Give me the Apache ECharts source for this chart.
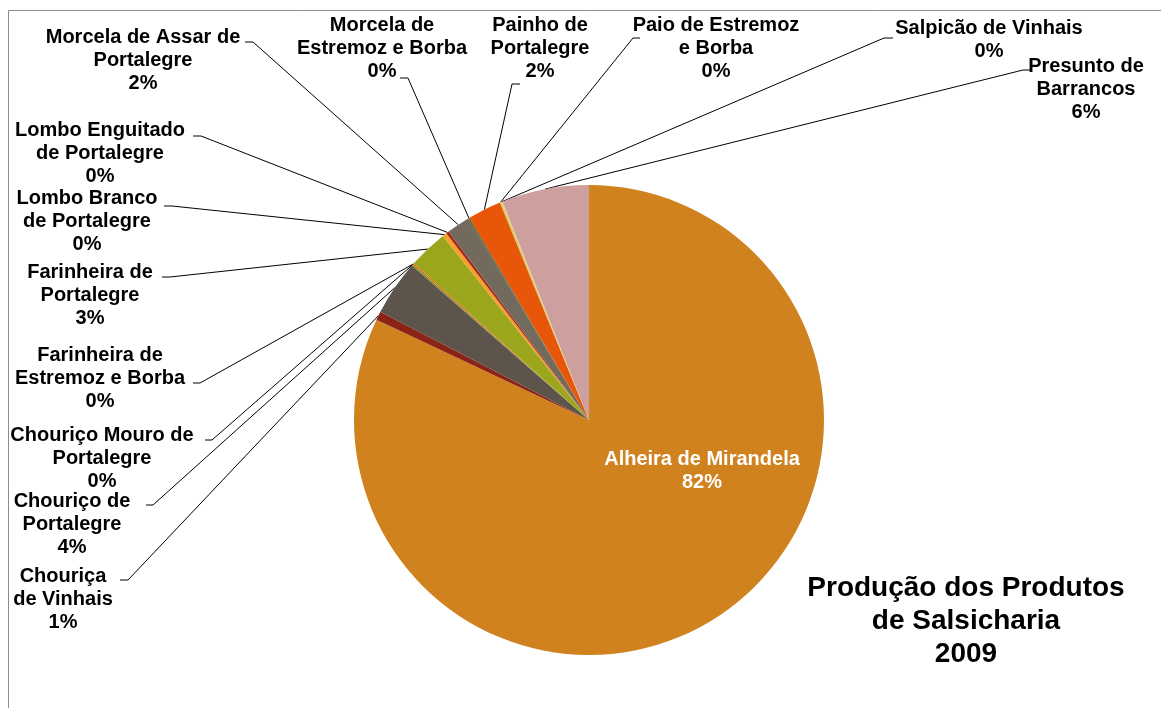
<!DOCTYPE html>
<html>
<head>
<meta charset="utf-8">
<script src="https://cdn.jsdelivr.net/npm/echarts@6/dist/echarts.min.js"></script>
<style>
  html, body { margin: 0; padding: 0; background: #fff; }
  #chart { width: 1161px; height: 708px; }
</style>
</head>
<body>
<div id="chart"></div>
<script>
// produtos (ordem da folha de cálculo, sentido horário a partir das 12h)
const produtos = [
  "Alheira de Mirandela",
  "Chouriça de Vinhais",
  "Chouriço de Portalegre",
  "Chouriço Mouro de Portalegre",
  "Farinheira de Estremoz e Borba",
  "Farinheira de Portalegre",
  "Lombo Branco de Portalegre",
  "Lombo Enguitado de Portalegre",
  "Morcela de Assar de Portalegre",
  "Morcela de Estremoz e Borba",
  "Painho de Portalegre",
  "Paio de Estremoz e Borba",
  "Salpicão de Vinhais",
  "Presunto de Barrancos"
];
// como os nomes aparecem partidos nas etiquetas
const etiquetas = [
  "Alheira de Mirandela",
  "Chouriça\nde Vinhais",
  "Chouriço de\nPortalegre",
  "Chouriço Mouro de\nPortalegre",
  "Farinheira de\nEstremoz e Borba",
  "Farinheira de\nPortalegre",
  "Lombo Branco\nde Portalegre",
  "Lombo Enguitado\nde Portalegre",
  "Morcela de Assar de\nPortalegre",
  "Morcela de\nEstremoz e Borba",
  "Painho de\nPortalegre",
  "Paio de Estremoz\ne Borba",
  "Salpicão de Vinhais",
  "Presunto de\nBarrancos"
];
// producao 2009 (%)
const producao = [82.1, 0.6, 3.8, 0.1, 0.1, 2.7, 0.3, 0.2, 1.6, 0.1, 2.3, 0.1, 0.1, 6.0];
const cores = [
  "#D0821E", "#8B2316", "#5D554B", "#77933C", "#E46C0A", "#9BA61C", "#F5A02A",
  "#A5281B", "#736A5E", "#4F6228", "#E8560A", "#C4CD3A", "#F2C28A", "#CDA09F"
];

// onde fica cada etiqueta: [centro x, topo y, cotovelo x, cotovelo y, fim x]
const posEtiquetas = [
  [702, 448],
  [63, 565, 128, 580, 120],
  [72, 490, 153, 505, 146],
  [102, 424, 212, 440, 205],
  [100, 344, 200, 383, 193],
  [90, 261, 170, 277, 162],
  [87, 187, 172, 206, 164],
  [100, 119, 201, 136, 193],
  [143, 26, 253, 42, 245],
  [382, 14, 408, 78, 400],
  [540, 14, 512, 84, 520],
  [716, 14, 633, 38, 640],
  [989, 17, 884, 38, 893],
  [1086, 55, 1023, 70, 1030]
];

const chart = echarts.init(document.getElementById("chart"));
const fonte = "'Liberation Sans', Arial, sans-serif";

chart.setOption({
  animation: false,
  textStyle: { fontFamily: fonte },
  graphic: [
    {
      type: "rect",
      shape: { x: 8.5, y: 10.5, width: 1300, height: 900 },
      style: { fill: null, stroke: "#8c8c8c", lineWidth: 1 },
      silent: true
    },
    {
      type: "text",
      x: 966,
      y: 572,
      style: {
        text: "Produção dos Produtos\nde Salsicharia\n2009",
        font: "bold 28px " + fonte,
        fill: "#000",
        align: "center",
        verticalAlign: "top",
        lineHeight: 33
      }
    }
  ],
  series: [
    {
      type: "pie",
      center: [589, 420],
      radius: 235,
      startAngle: 90,
      clockwise: true,
      avoidLabelOverlap: false,
      itemStyle: { borderWidth: 0 },
      label: {
        show: true,
        position: "outside",
        color: "#000",
        fontWeight: "bold",
        fontSize: 20,
        lineHeight: 23,
        fontFamily: fonte,
        align: "center",
        formatter: (p) => etiquetas[p.dataIndex] + "\n" + Math.round(p.percent) + "%"
      },
      labelLine: {
        show: true,
        lineStyle: { color: "#000", width: 1 }
      },
      labelLayout: (params) => {
        const s = posEtiquetas[params.dataIndex];
        const out = { x: s[0], y: s[1], align: "center", verticalAlign: "top" };
        if (s.length > 2 && params.labelLinePoints) {
          out.labelLinePoints = [
            params.labelLinePoints[0],
            [s[2], s[3]],
            [s[4], s[3]]
          ];
        }
        return out;
      },
      data: produtos.map((nome, i) => {
        const item = { name: nome, value: producao[i], itemStyle: { color: cores[i] } };
        if (i === 0) {
          item.label = { position: "inside", color: "#fff" };
          item.labelLine = { show: false };
        }
        return item;
      })
    }
  ]
});
</script>
</body>
</html>
